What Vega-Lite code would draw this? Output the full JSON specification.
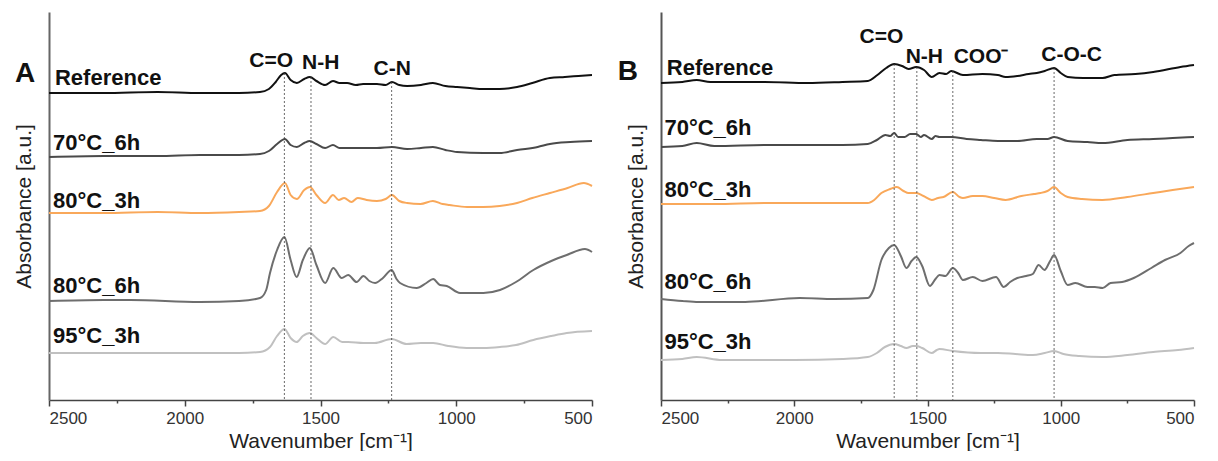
{
  "$schema": "https://vega.github.io/schema/vega-lite/v6.json",
  "background": "white",
  "padding": {"left": 13, "top": 12, "right": 0, "bottom": 0},
  "config": {
    "view": {"stroke": null},
    "font": "Liberation Sans",
    "axis": {"grid": false, "domainColor": "#444", "domainWidth": 1.5, "tickColor": "#444", "tickWidth": 1.5, "labelFont": "Liberation Sans", "labelFontSize": 17, "labelColor": "#333", "titleFont": "Liberation Sans", "titleFontSize": 21, "titleFontWeight": "normal", "titleColor": "#222"}
  },
  "datasets": {
    "A": [
      {"s":"Reference","w":2500,"a":307},{"s":"Reference","w":2300,"a":307},{"s":"Reference","w":2100,"a":308},{"s":"Reference","w":1944,"a":307},{"s":"Reference","w":1800,"a":307},{"s":"Reference","w":1723,"a":308},{"s":"Reference","w":1690,"a":311},{"s":"Reference","w":1665,"a":318},{"s":"Reference","w":1645,"a":325},{"s":"Reference","w":1631,"a":327},{"s":"Reference","w":1610,"a":320},{"s":"Reference","w":1587,"a":317},{"s":"Reference","w":1560,"a":321},{"s":"Reference","w":1539,"a":323},{"s":"Reference","w":1515,"a":319},{"s":"Reference","w":1483,"a":315},{"s":"Reference","w":1454,"a":319},{"s":"Reference","w":1430,"a":317},{"s":"Reference","w":1402,"a":317},{"s":"Reference","w":1370,"a":315},{"s":"Reference","w":1343,"a":316},{"s":"Reference","w":1292,"a":316},{"s":"Reference","w":1260,"a":315},{"s":"Reference","w":1237,"a":318},{"s":"Reference","w":1210,"a":315},{"s":"Reference","w":1181,"a":314},{"s":"Reference","w":1130,"a":315},{"s":"Reference","w":1086,"a":317},{"s":"Reference","w":1040,"a":314},{"s":"Reference","w":997,"a":313},{"s":"Reference","w":950,"a":312},{"s":"Reference","w":901,"a":311},{"s":"Reference","w":840,"a":311},{"s":"Reference","w":776,"a":313},{"s":"Reference","w":720,"a":317},{"s":"Reference","w":655,"a":322},{"s":"Reference","w":600,"a":323},{"s":"Reference","w":550,"a":324},{"s":"Reference","w":500,"a":325},
      {"s":"70°C_6h","w":2500,"a":243},{"s":"70°C_6h","w":2300,"a":244},{"s":"70°C_6h","w":2100,"a":244},{"s":"70°C_6h","w":1944,"a":245},{"s":"70°C_6h","w":1800,"a":245},{"s":"70°C_6h","w":1723,"a":246},{"s":"70°C_6h","w":1690,"a":249},{"s":"70°C_6h","w":1660,"a":256},{"s":"70°C_6h","w":1631,"a":261},{"s":"70°C_6h","w":1610,"a":255},{"s":"70°C_6h","w":1587,"a":253},{"s":"70°C_6h","w":1560,"a":257},{"s":"70°C_6h","w":1539,"a":259},{"s":"70°C_6h","w":1515,"a":256},{"s":"70°C_6h","w":1483,"a":252},{"s":"70°C_6h","w":1454,"a":255},{"s":"70°C_6h","w":1430,"a":252},{"s":"70°C_6h","w":1402,"a":252},{"s":"70°C_6h","w":1343,"a":252},{"s":"70°C_6h","w":1292,"a":252},{"s":"70°C_6h","w":1237,"a":253},{"s":"70°C_6h","w":1181,"a":251},{"s":"70°C_6h","w":1130,"a":252},{"s":"70°C_6h","w":1086,"a":253},{"s":"70°C_6h","w":1040,"a":250},{"s":"70°C_6h","w":997,"a":248},{"s":"70°C_6h","w":901,"a":247},{"s":"70°C_6h","w":840,"a":247},{"s":"70°C_6h","w":776,"a":250},{"s":"70°C_6h","w":700,"a":253},{"s":"70°C_6h","w":655,"a":256},{"s":"70°C_6h","w":580,"a":258},{"s":"70°C_6h","w":500,"a":259},
      {"s":"80°C_3h","w":2500,"a":187},{"s":"80°C_3h","w":2300,"a":187},{"s":"80°C_3h","w":2100,"a":188},{"s":"80°C_3h","w":1944,"a":187},{"s":"80°C_3h","w":1800,"a":188},{"s":"80°C_3h","w":1723,"a":189},{"s":"80°C_3h","w":1690,"a":194},{"s":"80°C_3h","w":1660,"a":208},{"s":"80°C_3h","w":1631,"a":217},{"s":"80°C_3h","w":1610,"a":205},{"s":"80°C_3h","w":1587,"a":201},{"s":"80°C_3h","w":1560,"a":210},{"s":"80°C_3h","w":1539,"a":213},{"s":"80°C_3h","w":1515,"a":205},{"s":"80°C_3h","w":1483,"a":197},{"s":"80°C_3h","w":1454,"a":205},{"s":"80°C_3h","w":1433,"a":200},{"s":"80°C_3h","w":1413,"a":202},{"s":"80°C_3h","w":1386,"a":198},{"s":"80°C_3h","w":1363,"a":202},{"s":"80°C_3h","w":1330,"a":200},{"s":"80°C_3h","w":1292,"a":199},{"s":"80°C_3h","w":1260,"a":201},{"s":"80°C_3h","w":1237,"a":205},{"s":"80°C_3h","w":1210,"a":199},{"s":"80°C_3h","w":1181,"a":197},{"s":"80°C_3h","w":1132,"a":196},{"s":"80°C_3h","w":1086,"a":199},{"s":"80°C_3h","w":1050,"a":196},{"s":"80°C_3h","w":1025,"a":195},{"s":"80°C_3h","w":960,"a":193},{"s":"80°C_3h","w":901,"a":193},{"s":"80°C_3h","w":840,"a":194},{"s":"80°C_3h","w":776,"a":197},{"s":"80°C_3h","w":720,"a":202},{"s":"80°C_3h","w":655,"a":207},{"s":"80°C_3h","w":590,"a":212},{"s":"80°C_3h","w":530,"a":217},{"s":"80°C_3h","w":500,"a":214},
      {"s":"80°C_6h","w":2500,"a":99},{"s":"80°C_6h","w":2300,"a":100},{"s":"80°C_6h","w":2200,"a":100},{"s":"80°C_6h","w":1944,"a":98},{"s":"80°C_6h","w":1800,"a":99},{"s":"80°C_6h","w":1723,"a":102},{"s":"80°C_6h","w":1700,"a":110},{"s":"80°C_6h","w":1686,"a":127},{"s":"80°C_6h","w":1660,"a":150},{"s":"80°C_6h","w":1633,"a":163},{"s":"80°C_6h","w":1610,"a":140},{"s":"80°C_6h","w":1588,"a":123},{"s":"80°C_6h","w":1565,"a":140},{"s":"80°C_6h","w":1539,"a":152},{"s":"80°C_6h","w":1515,"a":135},{"s":"80°C_6h","w":1483,"a":117},{"s":"80°C_6h","w":1453,"a":132},{"s":"80°C_6h","w":1422,"a":122},{"s":"80°C_6h","w":1398,"a":125},{"s":"80°C_6h","w":1367,"a":118},{"s":"80°C_6h","w":1342,"a":124},{"s":"80°C_6h","w":1320,"a":119},{"s":"80°C_6h","w":1299,"a":117},{"s":"80°C_6h","w":1270,"a":122},{"s":"80°C_6h","w":1238,"a":130},{"s":"80°C_6h","w":1220,"a":121},{"s":"80°C_6h","w":1207,"a":117},{"s":"80°C_6h","w":1146,"a":112},{"s":"80°C_6h","w":1110,"a":117},{"s":"80°C_6h","w":1085,"a":121},{"s":"80°C_6h","w":1060,"a":115},{"s":"80°C_6h","w":1035,"a":114},{"s":"80°C_6h","w":986,"a":107},{"s":"80°C_6h","w":900,"a":107},{"s":"80°C_6h","w":839,"a":110},{"s":"80°C_6h","w":780,"a":118},{"s":"80°C_6h","w":716,"a":130},{"s":"80°C_6h","w":650,"a":139},{"s":"80°C_6h","w":593,"a":145},{"s":"80°C_6h","w":526,"a":151},{"s":"80°C_6h","w":500,"a":148},
      {"s":"95°C_3h","w":2500,"a":47},{"s":"95°C_3h","w":2200,"a":47},{"s":"95°C_3h","w":1944,"a":47},{"s":"95°C_3h","w":1800,"a":47},{"s":"95°C_3h","w":1723,"a":48},{"s":"95°C_3h","w":1686,"a":53},{"s":"95°C_3h","w":1660,"a":64},{"s":"95°C_3h","w":1633,"a":71},{"s":"95°C_3h","w":1610,"a":62},{"s":"95°C_3h","w":1588,"a":58},{"s":"95°C_3h","w":1565,"a":64},{"s":"95°C_3h","w":1539,"a":67},{"s":"95°C_3h","w":1515,"a":62},{"s":"95°C_3h","w":1483,"a":56},{"s":"95°C_3h","w":1453,"a":63},{"s":"95°C_3h","w":1420,"a":58},{"s":"95°C_3h","w":1398,"a":58},{"s":"95°C_3h","w":1342,"a":57},{"s":"95°C_3h","w":1300,"a":57},{"s":"95°C_3h","w":1238,"a":61},{"s":"95°C_3h","w":1183,"a":56},{"s":"95°C_3h","w":1130,"a":57},{"s":"95°C_3h","w":1085,"a":57},{"s":"95°C_3h","w":1030,"a":54},{"s":"95°C_3h","w":962,"a":52},{"s":"95°C_3h","w":900,"a":52},{"s":"95°C_3h","w":839,"a":53},{"s":"95°C_3h","w":780,"a":55},{"s":"95°C_3h","w":716,"a":60},{"s":"95°C_3h","w":650,"a":64},{"s":"95°C_3h","w":593,"a":67},{"s":"95°C_3h","w":500,"a":69}
    ],
    "B": [
      {"s":"Reference","w":2500,"a":318},{"s":"Reference","w":2420,"a":319},{"s":"Reference","w":2366,"a":321},{"s":"Reference","w":2315,"a":319},{"s":"Reference","w":2111,"a":319},{"s":"Reference","w":1950,"a":318},{"s":"Reference","w":1819,"a":319},{"s":"Reference","w":1724,"a":320},{"s":"Reference","w":1688,"a":326},{"s":"Reference","w":1655,"a":333},{"s":"Reference","w":1625,"a":337},{"s":"Reference","w":1595,"a":335},{"s":"Reference","w":1571,"a":332},{"s":"Reference","w":1542,"a":334},{"s":"Reference","w":1513,"a":331},{"s":"Reference","w":1484,"a":324},{"s":"Reference","w":1455,"a":328},{"s":"Reference","w":1430,"a":327},{"s":"Reference","w":1411,"a":330},{"s":"Reference","w":1367,"a":326},{"s":"Reference","w":1294,"a":327},{"s":"Reference","w":1236,"a":326},{"s":"Reference","w":1207,"a":324},{"s":"Reference","w":1163,"a":325},{"s":"Reference","w":1120,"a":327},{"s":"Reference","w":1090,"a":328},{"s":"Reference","w":1060,"a":330},{"s":"Reference","w":1025,"a":333},{"s":"Reference","w":1000,"a":328},{"s":"Reference","w":974,"a":324},{"s":"Reference","w":916,"a":323},{"s":"Reference","w":843,"a":323},{"s":"Reference","w":799,"a":326},{"s":"Reference","w":720,"a":327},{"s":"Reference","w":653,"a":329},{"s":"Reference","w":551,"a":334},{"s":"Reference","w":500,"a":336},
      {"s":"70°C_6h","w":2500,"a":254},{"s":"70°C_6h","w":2420,"a":255},{"s":"70°C_6h","w":2366,"a":258},{"s":"70°C_6h","w":2300,"a":255},{"s":"70°C_6h","w":2100,"a":256},{"s":"70°C_6h","w":1950,"a":256},{"s":"70°C_6h","w":1819,"a":256},{"s":"70°C_6h","w":1724,"a":257},{"s":"70°C_6h","w":1690,"a":261},{"s":"70°C_6h","w":1658,"a":266},{"s":"70°C_6h","w":1640,"a":265},{"s":"70°C_6h","w":1625,"a":268},{"s":"70°C_6h","w":1610,"a":264},{"s":"70°C_6h","w":1586,"a":264},{"s":"70°C_6h","w":1565,"a":267},{"s":"70°C_6h","w":1542,"a":267},{"s":"70°C_6h","w":1525,"a":264},{"s":"70°C_6h","w":1513,"a":266},{"s":"70°C_6h","w":1484,"a":262},{"s":"70°C_6h","w":1470,"a":265},{"s":"70°C_6h","w":1455,"a":264},{"s":"70°C_6h","w":1411,"a":264},{"s":"70°C_6h","w":1353,"a":262},{"s":"70°C_6h","w":1300,"a":261},{"s":"70°C_6h","w":1236,"a":260},{"s":"70°C_6h","w":1163,"a":260},{"s":"70°C_6h","w":1090,"a":262},{"s":"70°C_6h","w":1050,"a":262},{"s":"70°C_6h","w":1025,"a":264},{"s":"70°C_6h","w":974,"a":260},{"s":"70°C_6h","w":900,"a":259},{"s":"70°C_6h","w":843,"a":258},{"s":"70°C_6h","w":750,"a":261},{"s":"70°C_6h","w":653,"a":262},{"s":"70°C_6h","w":580,"a":263},{"s":"70°C_6h","w":500,"a":264},
      {"s":"80°C_3h","w":2500,"a":197},{"s":"80°C_3h","w":2300,"a":197},{"s":"80°C_3h","w":2100,"a":198},{"s":"80°C_3h","w":1950,"a":198},{"s":"80°C_3h","w":1819,"a":198},{"s":"80°C_3h","w":1724,"a":198},{"s":"80°C_3h","w":1700,"a":201},{"s":"80°C_3h","w":1673,"a":208},{"s":"80°C_3h","w":1640,"a":212},{"s":"80°C_3h","w":1615,"a":214},{"s":"80°C_3h","w":1590,"a":210},{"s":"80°C_3h","w":1571,"a":208},{"s":"80°C_3h","w":1542,"a":208},{"s":"80°C_3h","w":1515,"a":205},{"s":"80°C_3h","w":1484,"a":201},{"s":"80°C_3h","w":1460,"a":203},{"s":"80°C_3h","w":1440,"a":204},{"s":"80°C_3h","w":1405,"a":209},{"s":"80°C_3h","w":1380,"a":204},{"s":"80°C_3h","w":1367,"a":203},{"s":"80°C_3h","w":1330,"a":205},{"s":"80°C_3h","w":1294,"a":205},{"s":"80°C_3h","w":1250,"a":203},{"s":"80°C_3h","w":1207,"a":201},{"s":"80°C_3h","w":1148,"a":205},{"s":"80°C_3h","w":1100,"a":207},{"s":"80°C_3h","w":1076,"a":208},{"s":"80°C_3h","w":1050,"a":210},{"s":"80°C_3h","w":1025,"a":214},{"s":"80°C_3h","w":1000,"a":208},{"s":"80°C_3h","w":974,"a":204},{"s":"80°C_3h","w":920,"a":202},{"s":"80°C_3h","w":843,"a":201},{"s":"80°C_3h","w":750,"a":204},{"s":"80°C_3h","w":653,"a":208},{"s":"80°C_3h","w":580,"a":211},{"s":"80°C_3h","w":500,"a":214},
      {"s":"80°C_6h","w":2500,"a":102},{"s":"80°C_6h","w":2420,"a":100},{"s":"80°C_6h","w":2359,"a":99},{"s":"80°C_6h","w":2184,"a":99},{"s":"80°C_6h","w":1980,"a":103},{"s":"80°C_6h","w":1850,"a":102},{"s":"80°C_6h","w":1724,"a":103},{"s":"80°C_6h","w":1703,"a":111},{"s":"80°C_6h","w":1673,"a":141},{"s":"80°C_6h","w":1645,"a":153},{"s":"80°C_6h","w":1625,"a":156},{"s":"80°C_6h","w":1600,"a":145},{"s":"80°C_6h","w":1579,"a":133},{"s":"80°C_6h","w":1560,"a":140},{"s":"80°C_6h","w":1542,"a":144},{"s":"80°C_6h","w":1520,"a":135},{"s":"80°C_6h","w":1491,"a":115},{"s":"80°C_6h","w":1470,"a":122},{"s":"80°C_6h","w":1455,"a":126},{"s":"80°C_6h","w":1433,"a":125},{"s":"80°C_6h","w":1405,"a":133},{"s":"80°C_6h","w":1385,"a":128},{"s":"80°C_6h","w":1367,"a":121},{"s":"80°C_6h","w":1330,"a":124},{"s":"80°C_6h","w":1294,"a":120},{"s":"80°C_6h","w":1243,"a":124},{"s":"80°C_6h","w":1214,"a":114},{"s":"80°C_6h","w":1190,"a":119},{"s":"80°C_6h","w":1163,"a":123},{"s":"80°C_6h","w":1130,"a":125},{"s":"80°C_6h","w":1105,"a":127},{"s":"80°C_6h","w":1083,"a":136},{"s":"80°C_6h","w":1061,"a":131},{"s":"80°C_6h","w":1040,"a":140},{"s":"80°C_6h","w":1025,"a":146},{"s":"80°C_6h","w":1000,"a":130},{"s":"80°C_6h","w":974,"a":116},{"s":"80°C_6h","w":945,"a":118},{"s":"80°C_6h","w":900,"a":114},{"s":"80°C_6h","w":872,"a":114},{"s":"80°C_6h","w":843,"a":113},{"s":"80°C_6h","w":813,"a":118},{"s":"80°C_6h","w":770,"a":119},{"s":"80°C_6h","w":726,"a":123},{"s":"80°C_6h","w":660,"a":133},{"s":"80°C_6h","w":609,"a":141},{"s":"80°C_6h","w":551,"a":148},{"s":"80°C_6h","w":520,"a":155},{"s":"80°C_6h","w":500,"a":158},
      {"s":"95°C_3h","w":2500,"a":41},{"s":"95°C_3h","w":2420,"a":42},{"s":"95°C_3h","w":2366,"a":44},{"s":"95°C_3h","w":2271,"a":41},{"s":"95°C_3h","w":2000,"a":41},{"s":"95°C_3h","w":1819,"a":42},{"s":"95°C_3h","w":1724,"a":44},{"s":"95°C_3h","w":1690,"a":48},{"s":"95°C_3h","w":1660,"a":54},{"s":"95°C_3h","w":1625,"a":57},{"s":"95°C_3h","w":1600,"a":55},{"s":"95°C_3h","w":1579,"a":53},{"s":"95°C_3h","w":1555,"a":55},{"s":"95°C_3h","w":1542,"a":55},{"s":"95°C_3h","w":1520,"a":53},{"s":"95°C_3h","w":1484,"a":48},{"s":"95°C_3h","w":1465,"a":51},{"s":"95°C_3h","w":1455,"a":52},{"s":"95°C_3h","w":1405,"a":50},{"s":"95°C_3h","w":1300,"a":48},{"s":"95°C_3h","w":1236,"a":48},{"s":"95°C_3h","w":1170,"a":47},{"s":"95°C_3h","w":1105,"a":46},{"s":"95°C_3h","w":1060,"a":48},{"s":"95°C_3h","w":1025,"a":50},{"s":"95°C_3h","w":990,"a":47},{"s":"95°C_3h","w":930,"a":45},{"s":"95°C_3h","w":843,"a":44},{"s":"95°C_3h","w":750,"a":46},{"s":"95°C_3h","w":653,"a":49},{"s":"95°C_3h","w":560,"a":51},{"s":"95°C_3h","w":500,"a":53}
    ],
    "rA": [{"w":1633,"a":327},{"w":1535,"a":323},{"w":1238,"a":318}],
    "rB": [{"w":1625,"a":337},{"w":1540,"a":334},{"w":1405,"a":330},{"w":1025,"a":333}],
    "lA": [{"w":2478,"a":315,"t":"Reference"},{"w":2485,"a":250,"t":"70°C_6h"},{"w":2485,"a":192,"t":"80°C_3h"},{"w":2485,"a":107,"t":"80°C_6h"},{"w":2485,"a":57,"t":"95°C_3h"}],
    "lB": [{"w":2478,"a":326,"t":"Reference"},{"w":2487,"a":266,"t":"70°C_6h"},{"w":2487,"a":204,"t":"80°C_3h"},{"w":2487,"a":112,"t":"80°C_6h"},{"w":2487,"a":52,"t":"95°C_3h"}],
    "pA": [{"w":1682,"a":333,"t":"C=O"},{"w":1499,"a":331,"t":"N-H"},{"w":1236,"a":325,"t":"C-N"}],
    "pB": [{"w":1673,"a":358,"t":"C=O"},{"w":1512,"a":338,"t":"N-H"},{"w":1299,"a":338,"t":"COO⁻"},{"w":959,"a":340,"t":"C-O-C"}],
    "gA": [{"w":2588,"a":318,"t":"A"}],
    "gB": [{"w":2624,"a":321,"t":"B"}]
  },
  "spacing": 69,
  "bounds": "flush",
  "hconcat": [
    {
      "width": 543, "height": 388,
      "resolve": {"axis": {"x": "independent"}},
      "layer": [
        {"data": {"name": "A"}, "mark": {"type": "line", "strokeWidth": 2, "interpolate": "monotone"},
         "encoding": {
           "x": {"field": "w", "type": "quantitative", "scale": {"domain": [500, 2500], "reverse": true, "nice": false, "zero": false}, "axis": {"values": [2500, 2000, 1500, 1000, 500], "format": "d", "title": "Wavenumber [cm⁻¹]", "tickSize": 6, "labelPadding": 4, "titlePadding": 4, "orient": "bottom"}},
           "y": {"field": "a", "type": "quantitative", "scale": {"domain": [0, 388], "nice": false}, "axis": {"title": "Absorbance [a.u.]", "labels": false, "ticks": false, "domainColor": "#666", "domainWidth": 2, "titlePadding": 15}},
           "color": {"field": "s", "type": "nominal", "scale": {"domain": ["Reference", "70°C_6h", "80°C_3h", "80°C_6h", "95°C_3h"], "range": ["#111111", "#4a4a4a", "#f9a85a", "#6e6e6e", "#c0c0c0"]}, "legend": null}
         }},
        {"data": {"name": "rA"}, "mark": {"type": "rule", "strokeDash": [2, 2], "strokeWidth": 0.8, "color": "#444"},
         "encoding": {
           "x": {"field": "w", "type": "quantitative", "axis": {"values": [2250, 1750, 1250, 750], "labels": false, "domain": false, "tickSize": 3, "title": null, "orient": "bottom"}},
           "y": {"field": "a", "type": "quantitative"},
           "y2": {"datum": 0}
         }},
        {"data": {"name": "lA"}, "mark": {"type": "text", "align": "left", "baseline": "alphabetic", "fontSize": 22, "fontWeight": "bold", "color": "#111"},
         "encoding": {"x": {"field": "w", "type": "quantitative", "axis": null}, "y": {"field": "a", "type": "quantitative"}, "text": {"field": "t"}}},
        {"data": {"name": "pA"}, "mark": {"type": "text", "align": "center", "baseline": "alphabetic", "fontSize": 21, "fontWeight": "bold", "color": "#111"},
         "encoding": {"x": {"field": "w", "type": "quantitative", "axis": null}, "y": {"field": "a", "type": "quantitative"}, "text": {"field": "t"}}},
        {"data": {"name": "gA"}, "mark": {"type": "text", "align": "center", "baseline": "alphabetic", "fontSize": 28, "fontWeight": "bold", "color": "#111"},
         "encoding": {"x": {"field": "w", "type": "quantitative", "axis": null}, "y": {"field": "a", "type": "quantitative"}, "text": {"field": "t"}}}
      ]
    },
    {
      "width": 533, "height": 388,
      "resolve": {"axis": {"x": "independent"}},
      "layer": [
        {"data": {"name": "B"}, "mark": {"type": "line", "strokeWidth": 2, "interpolate": "monotone"},
         "encoding": {
           "x": {"field": "w", "type": "quantitative", "scale": {"domain": [500, 2500], "reverse": true, "nice": false, "zero": false}, "axis": {"values": [2500, 2000, 1500, 1000, 500], "format": "d", "title": "Wavenumber [cm⁻¹]", "tickSize": 6, "labelPadding": 4, "titlePadding": 4, "orient": "bottom"}},
           "y": {"field": "a", "type": "quantitative", "scale": {"domain": [1, 389], "nice": false}, "axis": {"title": "Absorbance [a.u.]", "labels": false, "ticks": false, "domainColor": "#555", "domainWidth": 2, "titlePadding": 15}},
           "color": {"field": "s", "type": "nominal", "scale": {"domain": ["Reference", "70°C_6h", "80°C_3h", "80°C_6h", "95°C_3h"], "range": ["#111111", "#4a4a4a", "#f9a85a", "#6e6e6e", "#c0c0c0"]}, "legend": null}
         }},
        {"data": {"name": "rB"}, "mark": {"type": "rule", "strokeDash": [2, 2], "strokeWidth": 0.8, "color": "#444"},
         "encoding": {
           "x": {"field": "w", "type": "quantitative", "axis": {"values": [2250, 1750, 1250, 750], "labels": false, "domain": false, "tickSize": 3, "title": null, "orient": "bottom"}},
           "y": {"field": "a", "type": "quantitative"},
           "y2": {"datum": 1}
         }},
        {"data": {"name": "lB"}, "mark": {"type": "text", "align": "left", "baseline": "alphabetic", "fontSize": 22, "fontWeight": "bold", "color": "#111"},
         "encoding": {"x": {"field": "w", "type": "quantitative", "axis": null}, "y": {"field": "a", "type": "quantitative"}, "text": {"field": "t"}}},
        {"data": {"name": "pB"}, "mark": {"type": "text", "align": "center", "baseline": "alphabetic", "fontSize": 21, "fontWeight": "bold", "color": "#111"},
         "encoding": {"x": {"field": "w", "type": "quantitative", "axis": null}, "y": {"field": "a", "type": "quantitative"}, "text": {"field": "t"}}},
        {"data": {"name": "gB"}, "mark": {"type": "text", "align": "center", "baseline": "alphabetic", "fontSize": 28, "fontWeight": "bold", "color": "#111"},
         "encoding": {"x": {"field": "w", "type": "quantitative", "axis": null}, "y": {"field": "a", "type": "quantitative"}, "text": {"field": "t"}}}
      ]
    }
  ]
}
